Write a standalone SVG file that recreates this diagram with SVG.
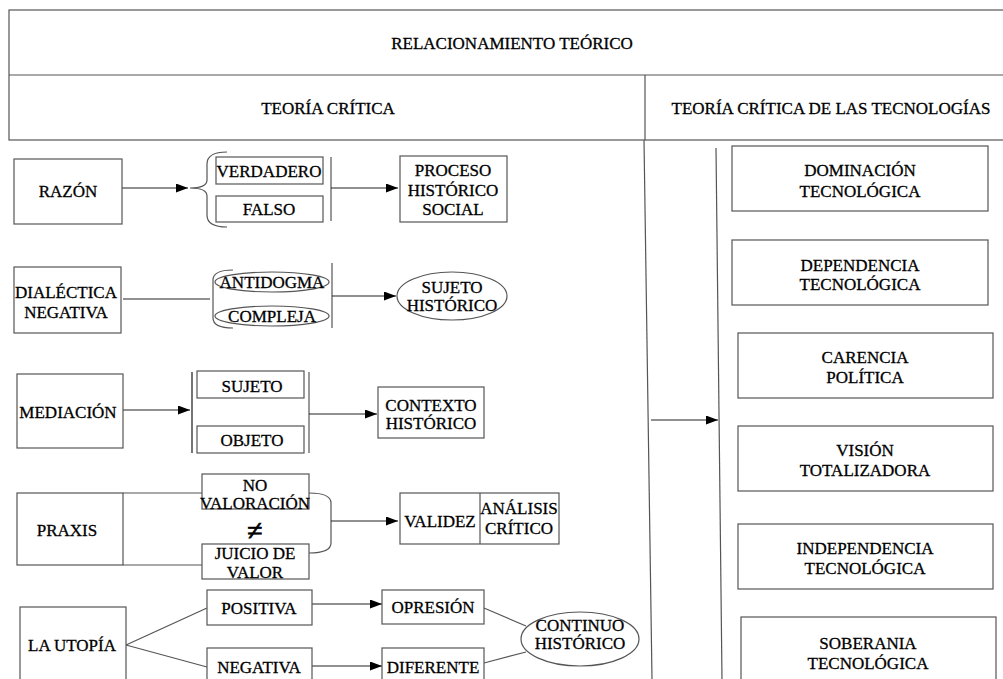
<svg xmlns="http://www.w3.org/2000/svg" width="1003" height="679" viewBox="0 0 1003 679">
<defs>
<style>
.b{fill:#fff;stroke:#555;stroke-width:1.2}
.n{fill:none;stroke:#555;stroke-width:1.2}
.c{fill:none;stroke:#222;stroke-width:1.2}
.t{font-family:'Liberation Serif','Tinos','Times New Roman','DejaVu Serif',serif;font-size:17px;fill:#000;stroke:#000;stroke-width:0.3;text-anchor:middle}
</style>
<marker id="ah" markerUnits="userSpaceOnUse" markerWidth="13" markerHeight="10" refX="12" refY="4.5" orient="auto">
<path d="M0,0 L12,4.5 L0,9 z" fill="#000"/>
</marker>
</defs>
<rect width="1003" height="679" fill="#fff"/>

<g id="header">
<rect x="9" y="10" width="1000" height="130" class="n"/>
<line x1="9" y1="75" x2="1003" y2="75" class="n"/>
<line x1="645" y1="75" x2="645" y2="140" class="n"/>
<text class="t" x="512" y="49">RELACIONAMIENTO TEÓRICO</text>
<text class="t" x="328" y="114">TEORÍA CRÍTICA</text>
<text class="t" x="831" y="114">TEORÍA CRÍTICA DE LAS TECNOLOGÍAS</text>
</g>

<g id="connectors">
<line x1="644" y1="140" x2="652" y2="679" class="n"/>
<line x1="716" y1="148" x2="722" y2="679" class="n"/>
<line x1="651" y1="420" x2="718" y2="420" class="c" marker-end="url(#ah)"/>
<line x1="122" y1="188" x2="188" y2="188" class="c" marker-end="url(#ah)"/>
<path d="M227 152 Q207 152 207 164 L207 180 Q207 188 190 188 Q207 188 207 196 L207 215 Q207 227 227 227" class="n"/>
<line x1="331" y1="157" x2="331" y2="221" class="n"/>
<line x1="331" y1="188" x2="398" y2="188" class="c" marker-end="url(#ah)"/>
<line x1="123" y1="299" x2="210" y2="299" class="c"/>
<path d="M233 270 Q213 270 213 280 L213 318 Q213 328 233 328" class="n"/>
<line x1="332" y1="263" x2="332" y2="328" class="n"/>
<line x1="332" y1="296" x2="396" y2="296" class="c" marker-end="url(#ah)"/>
<line x1="123" y1="410" x2="190" y2="410" class="c" marker-end="url(#ah)"/>
<line x1="192" y1="372" x2="192" y2="453" stroke="#666" stroke-width="1.8"/>
<line x1="309" y1="372" x2="309" y2="453" class="n"/>
<line x1="309" y1="414" x2="377" y2="414" class="c" marker-end="url(#ah)"/>
<line x1="123" y1="493" x2="202" y2="493" class="n"/>
<line x1="123" y1="565" x2="202" y2="565" class="n"/>
<path d="M309 493 Q331 493 331 503 L331 543 Q331 553 309 553" class="n"/>
<line x1="331" y1="521" x2="398" y2="521" class="c" marker-end="url(#ah)"/>
<line x1="126" y1="645" x2="207" y2="608" class="n"/>
<line x1="126" y1="645" x2="207" y2="667" class="n"/>
<line x1="312" y1="604" x2="382" y2="604" class="c" marker-end="url(#ah)"/>
<line x1="312" y1="666" x2="382" y2="666" class="c" marker-end="url(#ah)"/>
<line x1="484" y1="608" x2="526" y2="626" class="n"/>
<line x1="484" y1="663" x2="526" y2="652" class="n"/>
</g>

<g id="razon"><rect x="14" y="159" width="108" height="65" class="b"/><text class="t" x="68" y="197">RAZÓN</text></g>
<g id="verdadero"><rect x="216" y="157" width="107" height="27" class="b"/><text class="t" x="269" y="177">VERDADERO</text></g>
<g id="falso"><rect x="216" y="196" width="107" height="26" class="b"/><text class="t" x="269" y="215">FALSO</text></g>
<g id="proceso"><rect x="400" y="156" width="107" height="66" class="b"/><text class="t" x="453" y="176">PROCESO</text><text class="t" x="453" y="196">HISTÓRICO</text><text class="t" x="453" y="215">SOCIAL</text></g>

<g id="dialectica"><rect x="14" y="267" width="107" height="66" class="b"/><text class="t" x="66" y="298">DIALÉCTICA</text><text class="t" x="66" y="318">NEGATIVA</text></g>
<g id="antidogma"><ellipse cx="272" cy="282" rx="57" ry="10" class="b"/><text class="t" x="272" y="288">ANTIDOGMA</text></g>
<g id="compleja"><ellipse cx="272" cy="316" rx="57" ry="10" class="b"/><text class="t" x="272" y="322">COMPLEJA</text></g>
<g id="sujeto-historico"><ellipse cx="452" cy="296" rx="55" ry="24" class="b"/><text class="t" x="452" y="293">SUJETO</text><text class="t" x="452" y="311">HISTÓRICO</text></g>

<g id="mediacion"><rect x="17" y="374" width="106" height="74" class="b"/><text class="t" x="68" y="418">MEDIACIÓN</text></g>
<g id="sujeto"><rect x="197" y="371" width="107" height="27" class="b"/><text class="t" x="252" y="392">SUJETO</text></g>
<g id="objeto"><rect x="197" y="426" width="107" height="27" class="b"/><text class="t" x="252" y="446">OBJETO</text></g>
<g id="contexto"><rect x="378" y="387" width="106" height="51" class="b"/><text class="t" x="431" y="411">CONTEXTO</text><text class="t" x="431" y="429">HISTÓRICO</text></g>

<g id="praxis"><rect x="17" y="493" width="106" height="72" class="b"/><text class="t" x="67" y="536">PRAXIS</text></g>
<g id="no-valoracion"><rect x="202" y="474" width="107" height="35" class="b"/><text class="t" x="255" y="491">NO</text><text class="t" x="255" y="509">VALORACIÓN</text></g>
<g id="distinto"><text class="t" x="255" y="540" style="font-size:28px;stroke-width:0.8">≠</text></g>
<g id="juicio"><rect x="202" y="544" width="107" height="35" class="b"/><text class="t" x="255" y="559">JUICIO DE</text><text class="t" x="255" y="578">VALOR</text></g>
<g id="validez"><rect x="400" y="493" width="159" height="51" class="b"/><line x1="480" y1="493" x2="480" y2="544" class="n"/><text class="t" x="440" y="527">VALIDEZ</text><text class="t" x="519" y="514">ANÁLISIS</text><text class="t" x="519" y="534">CRÍTICO</text></g>

<g id="utopia"><rect x="20" y="607" width="106" height="80" class="b"/><text class="t" x="72" y="651">LA UTOPÍA</text></g>
<g id="positiva"><rect x="207" y="590" width="105" height="35" class="b"/><text class="t" x="259" y="614">POSITIVA</text></g>
<g id="negativa"><rect x="207" y="648" width="105" height="40" class="b"/><text class="t" x="259" y="673">NEGATIVA</text></g>
<g id="opresion"><rect x="382" y="590" width="102" height="34" class="b"/><text class="t" x="433" y="613">OPRESIÓN</text></g>
<g id="diferente"><rect x="382" y="648" width="102" height="40" class="b"/><text class="t" x="433" y="673">DIFERENTE</text></g>
<g id="continuo"><ellipse cx="580" cy="639" rx="59" ry="27" class="b"/><text class="t" x="580" y="631">CONTINUO</text><text class="t" x="580" y="649">HISTÓRICO</text></g>

<g id="dominacion"><rect x="732" y="146" width="256" height="65" class="b"/><text class="t" x="860" y="176">DOMINACIÓN</text><text class="t" x="860" y="197">TECNOLÓGICA</text></g>
<g id="dependencia"><rect x="732" y="240" width="256" height="65" class="b"/><text class="t" x="860" y="271">DEPENDENCIA</text><text class="t" x="860" y="290">TECNOLÓGICA</text></g>
<g id="carencia"><rect x="738" y="333" width="255" height="65" class="b"/><text class="t" x="865" y="363">CARENCIA</text><text class="t" x="865" y="383">POLÍTICA</text></g>
<g id="vision"><rect x="738" y="426" width="255" height="65" class="b"/><text class="t" x="865" y="456">VISIÓN</text><text class="t" x="865" y="476">TOTALIZADORA</text></g>
<g id="independencia"><rect x="738" y="524" width="255" height="65" class="b"/><text class="t" x="865" y="554">INDEPENDENCIA</text><text class="t" x="865" y="574">TECNOLÓGICA</text></g>
<g id="soberania"><rect x="741" y="617" width="255" height="70" class="b"/><text class="t" x="868" y="649">SOBERANIA</text><text class="t" x="868" y="669">TECNOLÓGICA</text></g>
</svg>
